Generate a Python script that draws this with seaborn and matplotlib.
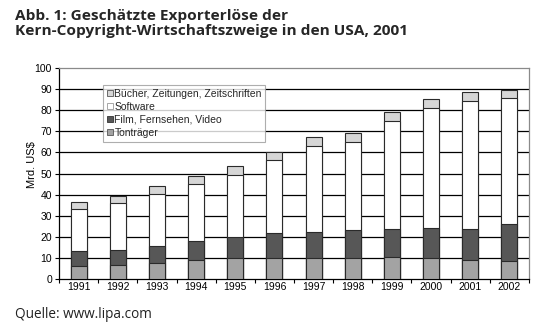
import numpy as np
import pandas as pd
import matplotlib
matplotlib.use("Agg")
import matplotlib.pyplot as plt
import seaborn as sns
from matplotlib.patches import Patch

years = ["1991", "1992", "1993", "1994", "1995", "1996", "1997", "1998", "1999", "2000", "2001", "2002"]
tontraeger = [6.2, 6.8, 7.8, 9.0, 10.1, 10.1, 10.1, 10.1, 10.6, 10.1, 9.2, 8.7]
film = [7.3, 7.1, 7.9, 9.2, 10.0, 11.6, 12.4, 12.9, 13.3, 14.3, 14.7, 17.3]
software = [19.5, 21.9, 24.7, 26.6, 29.2, 34.7, 40.3, 42.0, 51.1, 56.6, 60.4, 59.6]
buecher = [3.3, 3.5, 3.7, 3.9, 4.1, 4.0, 4.4, 4.1, 4.2, 4.4, 4.3, 4.1]
series_names = ["Bücher, Zeitungen, Zeitschriften", "Software", "Film, Fernsehen, Video", "Tonträger"]
yticks = [0, 10, 20, 30, 40, 50, 60, 70, 80, 90, 100]

df = pd.DataFrame({"Jahr": years, "Tonträger": tontraeger, "Film": film,
                   "Software": software, "Bücher": buecher})
df["c1"] = df["Tonträger"]
df["c2"] = df["c1"] + df["Film"]
df["c3"] = df["c2"] + df["Software"]
df["c4"] = df["c3"] + df["Bücher"]

sns.set_theme(style="white")
narrow = ["Liberation Sans Narrow", "Liberation Sans", "DejaVu Sans"]
plt.rcParams["font.family"] = narrow

fig = plt.figure(figsize=(5.5, 3.27), dpi=100)
ax = fig.add_axes([59/550, 48/327, 470/550, 211/327])

colors = {"c4": "#d6d6d6", "c3": "#ffffff", "c2": "#575757", "c1": "#a3a3a3"}
for col in ["c4", "c3", "c2", "c1"]:
    sns.barplot(data=df, x="Jahr", y=col, color=colors[col], saturation=1,
                width=0.41, edgecolor="#2a2a2a", linewidth=0.8, ax=ax, zorder=3)

ax.set_ylim(0, 100)
ax.set_xlim(-0.5, 11.5)
ax.set_yticks(yticks)
ax.set_yticklabels([str(v) for v in yticks], fontsize=7.5, color="black")
ax.set_xticks(range(len(years)))
ax.set_xticklabels(years, fontsize=7.5, color="black")
for v in yticks[1:-1]:
    ax.axhline(v, color="black", lw=0.9, zorder=1)

ax.tick_params(axis="x", length=0, pad=2)
ax.tick_params(axis="y", length=3, width=0.8, color="black", pad=2, left=True)
ax.set_xticks(np.arange(-0.5, 12.0, 1.0), minor=True)
ax.tick_params(axis="x", which="minor", length=3, width=0.8, color="black", bottom=True)

for s in ["left", "bottom"]:
    ax.spines[s].set_color("black")
    ax.spines[s].set_linewidth(0.9)
for s in ["top", "right"]:
    ax.spines[s].set_color("#8a8a8a")
    ax.spines[s].set_linewidth(0.9)
for s in ax.spines.values():
    s.set_visible(True)

ax.set_xlabel("")
ax.set_ylabel("Mrd. US$", fontsize=8, color="black")
ax.yaxis.set_label_coords(-0.047, 0.54)

handles = [Patch(facecolor=colors["c4"], edgecolor="#555555", lw=0.6),
           Patch(facecolor=colors["c3"], edgecolor="#999999", lw=0.6),
           Patch(facecolor=colors["c2"], edgecolor="#333333", lw=0.6),
           Patch(facecolor=colors["c1"], edgecolor="#555555", lw=0.6)]
leg = ax.legend(handles, series_names, loc="upper left",
                bbox_to_anchor=(103/550, 1 - 85/327), bbox_transform=fig.transFigure,
                fontsize=7.5, frameon=True, fancybox=False, borderpad=0.35,
                handlelength=0.6, handleheight=0.5, handletextpad=0.15,
                labelspacing=0.3, borderaxespad=0)
leg.get_frame().set_edgecolor("#9a9a9a")
leg.get_frame().set_linewidth(0.8)
leg.set_zorder(5)

fig.text(15/550, 1 - 9/327, "Abb. 1: Geschätzte Exporterlöse der\nKern-Copyright-Wirtschaftszweige in den USA, 2001",
         ha="left", va="top", fontsize=11.1, fontweight="bold", family=["Open Sans", "DejaVu Sans"],
         linespacing=1.12)
fig.text(15/550, 1 - 318/327, "Quelle: www.lipa.com", ha="left", va="baseline", fontsize=9.8,
         family=["Open Sans", "DejaVu Sans"], color="#222222")

fig.savefig("out.png", dpi=100)
